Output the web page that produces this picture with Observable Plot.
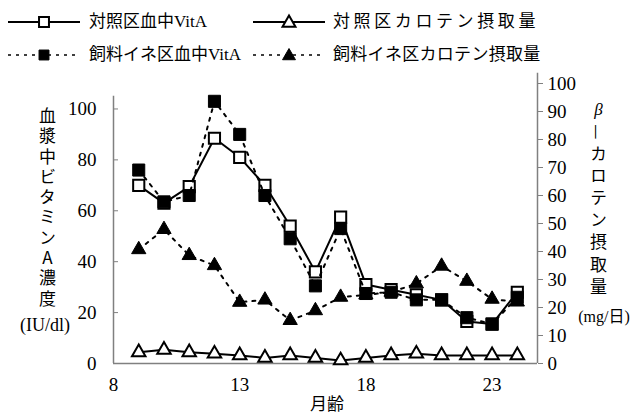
<!DOCTYPE html>
<html><head><meta charset="utf-8">
<script src="https://cdn.jsdelivr.net/npm/d3@7"></script>
<script src="https://cdn.jsdelivr.net/npm/@observablehq/plot@0.6"></script>
<style>
body{margin:0;background:#fff;}
#wrap{position:relative;width:632px;height:416px;font-family:"Liberation Serif","Noto Sans CJK JP",serif;color:#000;}
#legend{position:relative;width:632px;height:70px;}
.sw{position:absolute;}
.lt{position:absolute;font-size:17px;line-height:20px;white-space:nowrap;}
.vt{position:absolute;writing-mode:vertical-rl;text-orientation:mixed;font-family:"Noto Sans CJK JP","Liberation Serif",serif;font-size:17px;line-height:20px;width:20px;white-space:nowrap;}
.up{text-orientation:upright;}
.ht{position:absolute;font-size:17px;line-height:20px;white-space:nowrap;transform:translate(-50%,-50%);}
#chart svg{display:block;}
</style>
</head><body>
<div id="wrap">
  <div id="legend"></div>
  <div id="chart"></div>
  <div class="vt" style="left:37px;top:107px;letter-spacing:3.3px;">血漿中ビタミン<span class="up">A</span>濃度</div>
  <div class="ht" style="left:45px;top:325px;font-size:18px;">(IU/dl)</div>
  <div class="vt" style="left:588px;top:100px;letter-spacing:5.2px;"><span class="up" style="font-family:'Liberation Serif',serif;font-style:italic;">β</span>—カロテン摂取量</div>
  <div class="ht" style="left:604px;top:317px;font-size:16px;">(mg/日)</div>
  <div class="ht" style="left:327px;top:405px;font-size:17px;">月齢</div>
</div>
<script>
// ---- data ----
const months    = [9, 10, 11, 12, 13, 14, 15, 16, 17, 18, 19, 20, 21, 22, 23, 24];
const ctrlVitA  = [70, 63, 69.5, 88.5, 81, 70, 54, 36, 57.5, 31, 29, 27, 25, 16.5, 15.5, 28];
const feedVitA  = [76, 63.5, 66, 103, 90, 66, 49, 30.5, 53, 27.5, 28, 25, 25, 18, 15.5, 26];
const ctrlCarot = [4, 4.9, 4, 3.5, 2.9, 2, 2.9, 2, 1.1, 2, 2.9, 3.5, 2.9, 2.9, 2.9, 2.9];
const feedCarot = [40.7, 47.9, 38.6, 35, 21.9, 22.7, 15.4, 18.9, 23.7, 24.5, 25.5, 28.5, 34.8, 29.4, 23, 22];
const seriesNames = ["対照区血中VitA", "対照区カロテン摂取量", "飼料イネ区血中VitA", "飼料イネ区カロテン摂取量"];
const xTicks = [8, 13, 18, 23];
const leftTicks = [0, 20, 40, 60, 80, 100];
const rightTicks = [0, 10, 20, 30, 40, 50, 60, 70, 80, 90, 100];

// right axis (mg/day) 0–100 spans the same height as left 0–110
const K = 1.1;
const xMax = 24.8;
const rows = (vals, k) => months.map((m, i) => ({month: m, v: vals[i] * k}));
const dCtrlCar = rows(ctrlCarot, K), dFeedCar = rows(feedCarot, K);
const dCtrlVit = rows(ctrlVitA, 1), dFeedVit = rows(feedVitA, 1);

const gray = "#808080";
const dash = "3,6";
const chart = Plot.plot({
  width: 632, height: 346,
  marginTop: 13, marginBottom: 53, marginLeft: 113, marginRight: 95,
  style: {fontFamily: "'Liberation Serif','Noto Sans CJK JP',serif", fontSize: "19px", background: "white"},
  x: {domain: [8, xMax]},
  y: {domain: [0, 110]},
  marks: [
    Plot.ruleX([8], {y1: 0, y2: 105, stroke: gray, strokeWidth: 1.5}),
    Plot.ruleX([xMax], {y1: 0, y2: 114, stroke: gray, strokeWidth: 1.5}),
    Plot.ruleY([0], {x1: 8, x2: xMax, stroke: gray, strokeWidth: 1.5}),
    Plot.axisY({anchor: "left", ticks: leftTicks, tickSize: -5, tickPadding: 22, stroke: gray, label: null, tickFormat: d => d}),
    Plot.axisY({anchor: "right", ticks: rightTicks.map(v => v * K), tickFormat: d => Math.round(d / K), tickSize: 5, tickPadding: 5, stroke: gray, label: null}),
    Plot.axisX({ticks: xTicks, tickSize: 0, tickPadding: 14, label: null, tickFormat: d => d}),
    // control carotene
    Plot.line(dCtrlCar, {x: "month", y: "v", stroke: "black", strokeWidth: 2}),
    Plot.dot(dCtrlCar, {x: "month", y: "v", symbol: "triangle", r: 5, fill: "white", stroke: "black", strokeWidth: 2}),
    // feed-rice carotene
    Plot.line(dFeedCar, {x: "month", y: "v", stroke: "black", strokeWidth: 2, strokeDasharray: dash}),
    Plot.dot(dFeedCar, {x: "month", y: "v", symbol: "triangle", r: 5.3, fill: "black", stroke: "black", strokeWidth: 1}),
    // control VitA
    Plot.line(dCtrlVit, {x: "month", y: "v", stroke: "black", strokeWidth: 2}),
    Plot.dot(dCtrlVit, {x: "month", y: "v", symbol: "square", r: 6.3, fill: "white", stroke: "black", strokeWidth: 2}),
    // feed-rice VitA
    Plot.line(dFeedVit, {x: "month", y: "v", stroke: "black", strokeWidth: 2, strokeDasharray: dash}),
    Plot.dot(dFeedVit, {x: "month", y: "v", symbol: "square", r: 6.8, fill: "black", stroke: "black", strokeWidth: 1})
  ]
});
document.getElementById("chart").appendChild(chart);

// ---- legend ----
const legend = d3.select("#legend");
const items = [
  {name: seriesNames[0], col: 0, row: 0, shape: "square", fill: "white", dashed: false, ls: 0},
  {name: seriesNames[1], col: 1, row: 0, shape: "triangle", fill: "white", dashed: false, ls: 3.6},
  {name: seriesNames[2], col: 0, row: 1, shape: "square", fill: "black", dashed: true, ls: 0},
  {name: seriesNames[3], col: 1, row: 1, shape: "triangle", fill: "black", dashed: true, ls: 0.3}
];
const colX = [8, 253], textX = [89, 333], rowY = [22, 55];
for (const it of items) {
  const w = 72, h = 20;
  const s = legend.append("svg").attr("class", "sw").attr("width", w).attr("height", h)
    .style("left", colX[it.col] + "px").style("top", (rowY[it.row] - h / 2) + "px");
  s.append("line").attr("x1", 0).attr("x2", w).attr("y1", h / 2).attr("y2", h / 2)
    .attr("stroke", "black").attr("stroke-width", it.dashed ? 1.6 : 2)
    .attr("stroke-dasharray", it.dashed ? "3,5" : null);
  const sym = it.shape === "square" ? d3.symbolSquare : d3.symbolTriangle;
  const r = it.shape === "square" ? 5.6 : 4.8;
  s.append("path").attr("d", d3.symbol(sym, Math.PI * r * r)())
    .attr("transform", `translate(${w / 2},${h / 2 + (it.shape === "triangle" ? 1 : 0)})`)
    .attr("fill", it.fill).attr("stroke", "black").attr("stroke-width", it.fill === "white" ? 2 : 1);
  legend.append("div").attr("class", "lt").text(it.name)
    .style("letter-spacing", it.ls + "px")
    .style("left", textX[it.col] + "px").style("top", (rowY[it.row] - 10) + "px");
}
</script>
</body></html>
